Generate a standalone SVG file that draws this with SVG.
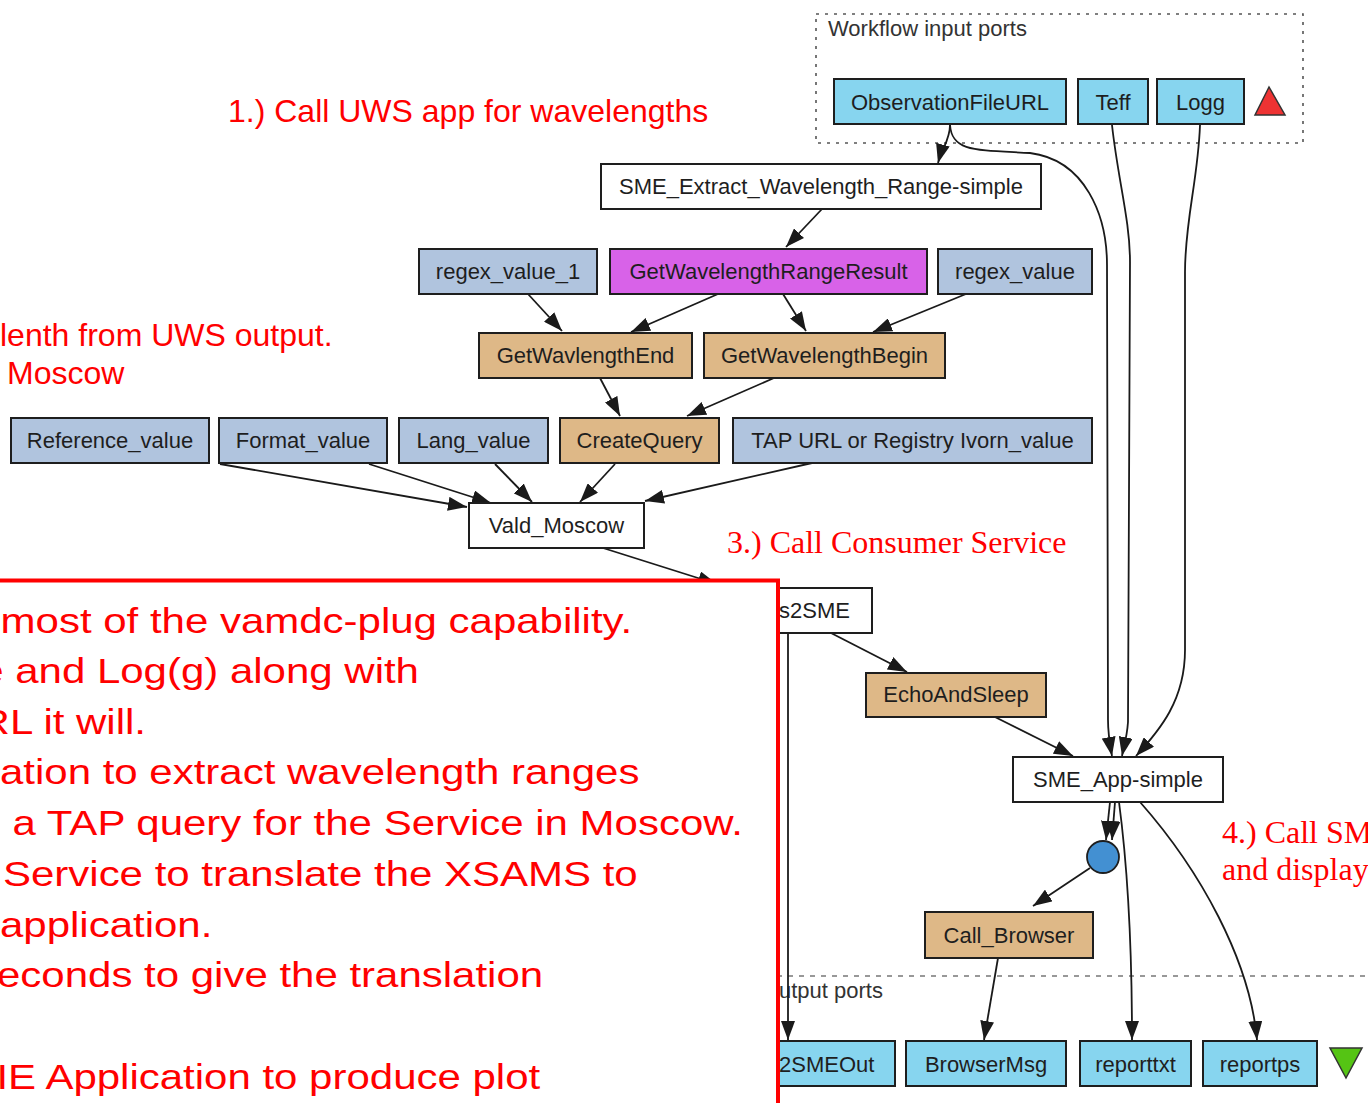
<svg xmlns="http://www.w3.org/2000/svg" width="1368" height="1103" viewBox="0 0 1368 1103">
<defs>
<style>
.n rect{stroke:#1e1e1e;stroke-width:2}
.n text{font-family:"Liberation Sans",Arial,sans-serif;font-size:22px;fill:#1e1e1e;text-anchor:middle}
.port{fill:#87d5ef}
.val{fill:#b0c4de}
.bw{fill:#deb887}
.wh{fill:#ffffff}
.mg{fill:#d862e8}
.e path{fill:none;stroke:#1a1a1a;stroke-width:1.8;marker-end:url(#ah)}
.ann{font-family:"Liberation Sans",Arial,sans-serif;font-size:32px;fill:#ff0000}
.annS{font-family:"Liberation Serif","Times New Roman",serif;font-size:32px;fill:#ff0000}
.big{font-family:"Liberation Sans",Arial,sans-serif;font-size:35px;fill:#ff0000}
.lbl{font-family:"Liberation Sans",Arial,sans-serif;font-size:22px;fill:#333333}
</style>
<marker id="ah" markerUnits="userSpaceOnUse" markerWidth="19" markerHeight="14" refX="19" refY="7" orient="auto">
<path d="M0,0 L19,7 L0,14 z" fill="#1a1a1a"/>
</marker>
</defs>
<rect width="1368" height="1103" fill="#ffffff"/>

<!-- clusters -->
<g id="input-ports-cluster">
<rect x="816" y="14" width="487" height="129" fill="none" stroke="#555" stroke-width="1.6" stroke-dasharray="3,6"/>
<text class="lbl" x="828" y="36">Workflow input ports</text>
</g>
<g id="output-ports-cluster">
<line x1="700" y1="976" x2="1368" y2="976" stroke="#777" stroke-width="1.6" stroke-dasharray="5,6"/>
<text class="lbl" x="779" y="998">utput ports</text>
</g>

<!-- connectors -->
<g id="connectors" class="e">
<path d="M950,125 C950,140 942,148 938,163"/>
<path d="M950,125 C952,152 975,150 1030,153 C1085,160 1107,215 1107,265 L1108,720 C1108,735 1110,745 1112,756"/>
<path d="M1112,125 C1118,180 1130,220 1130,262 L1128,722 C1127,737 1124,746 1122,756"/>
<path d="M1200,125 C1198,180 1185,220 1185,272 L1185,650 C1185,700 1160,730 1136,756"/>
<path d="M822,209 L786,247"/>
<path d="M528,294 L562,331"/>
<path d="M718,294 L631,332"/>
<path d="M783,294 L806,331"/>
<path d="M966,294 L873,332"/>
<path d="M600,378 L620,416"/>
<path d="M774,378 L687,416"/>
<path d="M220,464 L467,507"/>
<path d="M369,464 L491,503"/>
<path d="M495,464 L532,502"/>
<path d="M615,464 L580,502"/>
<path d="M812,463 L645,501"/>
<path d="M603,548 L717,584"/>
<path d="M788,633 L788,1040"/>
<path d="M831,633 L907,672"/>
<path d="M995,717 L1073,756"/>
<path d="M1110,802 L1106,840"/>
<path d="M1115,802 L1112,840"/>
<path d="M1119,802 C1128,870 1132,950 1132,1040"/>
<path d="M1140,802 C1200,870 1250,960 1257,1040"/>
<path d="M1090,868 L1033,906"/>
<path d="M998,958 L984,1040"/>
</g>

<!-- nodes -->
<g id="ObservationFileURL" class="n"><rect class="port" x="834" y="79" width="232" height="45"/><text x="950" y="110">ObservationFileURL</text></g>
<g id="Teff" class="n"><rect class="port" x="1078" y="79" width="70" height="45"/><text x="1113" y="110">Teff</text></g>
<g id="Logg" class="n"><rect class="port" x="1157" y="79" width="87" height="45"/><text x="1200.5" y="110">Logg</text></g>
<g id="input-marker"><polygon points="1269,87 1255,115 1285,115" fill="#ee3333" stroke="#333" stroke-width="1.5"/></g>

<g id="SME_Extract_Wavelength_Range-simple" class="n"><rect class="wh" x="601" y="164" width="440" height="45"/><text x="821" y="194">SME_Extract_Wavelength_Range-simple</text></g>
<g id="regex_value_1" class="n"><rect class="val" x="419" y="249" width="178" height="45"/><text x="508" y="279">regex_value_1</text></g>
<g id="GetWavelengthRangeResult" class="n"><rect class="mg" x="610" y="249" width="317" height="45"/><text x="768.5" y="279">GetWavelengthRangeResult</text></g>
<g id="regex_value" class="n"><rect class="val" x="938" y="249" width="154" height="45"/><text x="1015" y="279">regex_value</text></g>
<g id="GetWavlengthEnd" class="n"><rect class="bw" x="479" y="333" width="213" height="45"/><text x="585.5" y="363">GetWavlengthEnd</text></g>
<g id="GetWavelengthBegin" class="n"><rect class="bw" x="704" y="333" width="241" height="45"/><text x="824.5" y="363">GetWavelengthBegin</text></g>
<g id="Reference_value" class="n"><rect class="val" x="11" y="418" width="198" height="45"/><text x="110" y="448">Reference_value</text></g>
<g id="Format_value" class="n"><rect class="val" x="219" y="418" width="168" height="45"/><text x="303" y="448">Format_value</text></g>
<g id="Lang_value" class="n"><rect class="val" x="399" y="418" width="149" height="45"/><text x="473.5" y="448">Lang_value</text></g>
<g id="CreateQuery" class="n"><rect class="bw" x="560" y="418" width="159" height="45"/><text x="639.5" y="448">CreateQuery</text></g>
<g id="TAP_URL" class="n"><rect class="val" x="733" y="418" width="359" height="45"/><text x="912.5" y="448">TAP URL or Registry Ivorn_value</text></g>
<g id="Vald_Moscow" class="n"><rect class="wh" x="469" y="503" width="175" height="45"/><text x="556.5" y="533">Vald_Moscow</text></g>
<g id="s2SME" class="n"><rect class="wh" x="700" y="588" width="172" height="45"/><text x="779" y="618" style="text-anchor:start">s2SME</text></g>
<g id="EchoAndSleep" class="n"><rect class="bw" x="866" y="673" width="180" height="44"/><text x="956" y="702">EchoAndSleep</text></g>
<g id="SME_App-simple" class="n"><rect class="wh" x="1013" y="757" width="210" height="45"/><text x="1118" y="787">SME_App-simple</text></g>
<g id="merge"><circle cx="1103" cy="857" r="16" fill="#4390d2" stroke="#1e1e1e" stroke-width="1.8"/></g>
<g id="Call_Browser" class="n"><rect class="bw" x="925" y="912" width="168" height="46"/><text x="1009" y="943">Call_Browser</text></g>
<g id="SMEOut" class="n"><rect class="port" x="700" y="1041" width="195" height="45"/><text x="779" y="1072" style="text-anchor:start">2SMEOut</text></g>
<g id="BrowserMsg" class="n"><rect class="port" x="906" y="1041" width="160" height="45"/><text x="986" y="1072">BrowserMsg</text></g>
<g id="reporttxt" class="n"><rect class="port" x="1080" y="1041" width="111" height="45"/><text x="1135.5" y="1072">reporttxt</text></g>
<g id="reportps" class="n"><rect class="port" x="1203" y="1041" width="114" height="45"/><text x="1260" y="1072">reportps</text></g>
<g id="output-marker"><polygon points="1330,1048 1362,1048 1346,1078" fill="#55c414" stroke="#333" stroke-width="1.5"/></g>

<!-- annotations -->
<g id="annotations">
<text class="ann" x="228" y="122">1.) Call UWS app for wavelengths</text>
<text class="ann" x="0" y="346">lenth from UWS output.</text>
<text class="ann" x="7" y="384">Moscow</text>
<text class="annS" x="727" y="553">3.) Call Consumer Service</text>
<text class="annS" x="1222" y="843">4.) Call SM</text>
<text class="annS" x="1222" y="880">and display</text>
</g>

<g id="note-box">
<rect x="-10" y="580.5" width="788" height="560" fill="#ffffff" stroke="#ff0000" stroke-width="4"/>
<g transform="scale(1.2,1)">
<text class="big" x="0.5" y="633">most of the vamdc-plug capability.</text>
<text class="big" x="-16.5" y="683">e and Log(g) along with</text>
<text class="big" x="-17" y="734">RL it will.</text>
<text class="big" x="0" y="784">ation to extract wavelength ranges</text>
<text class="big" x="10.5" y="835">a TAP query for the Service in Moscow.</text>
<text class="big" x="2.5" y="886">Service to translate the XSAMS to</text>
<text class="big" x="0" y="937">application.</text>
<text class="big" x="-2.5" y="987">econds to give the translation</text>
<text class="big" x="-3" y="1089">IE Application to produce plot</text>
</g>
</g>
</svg>
